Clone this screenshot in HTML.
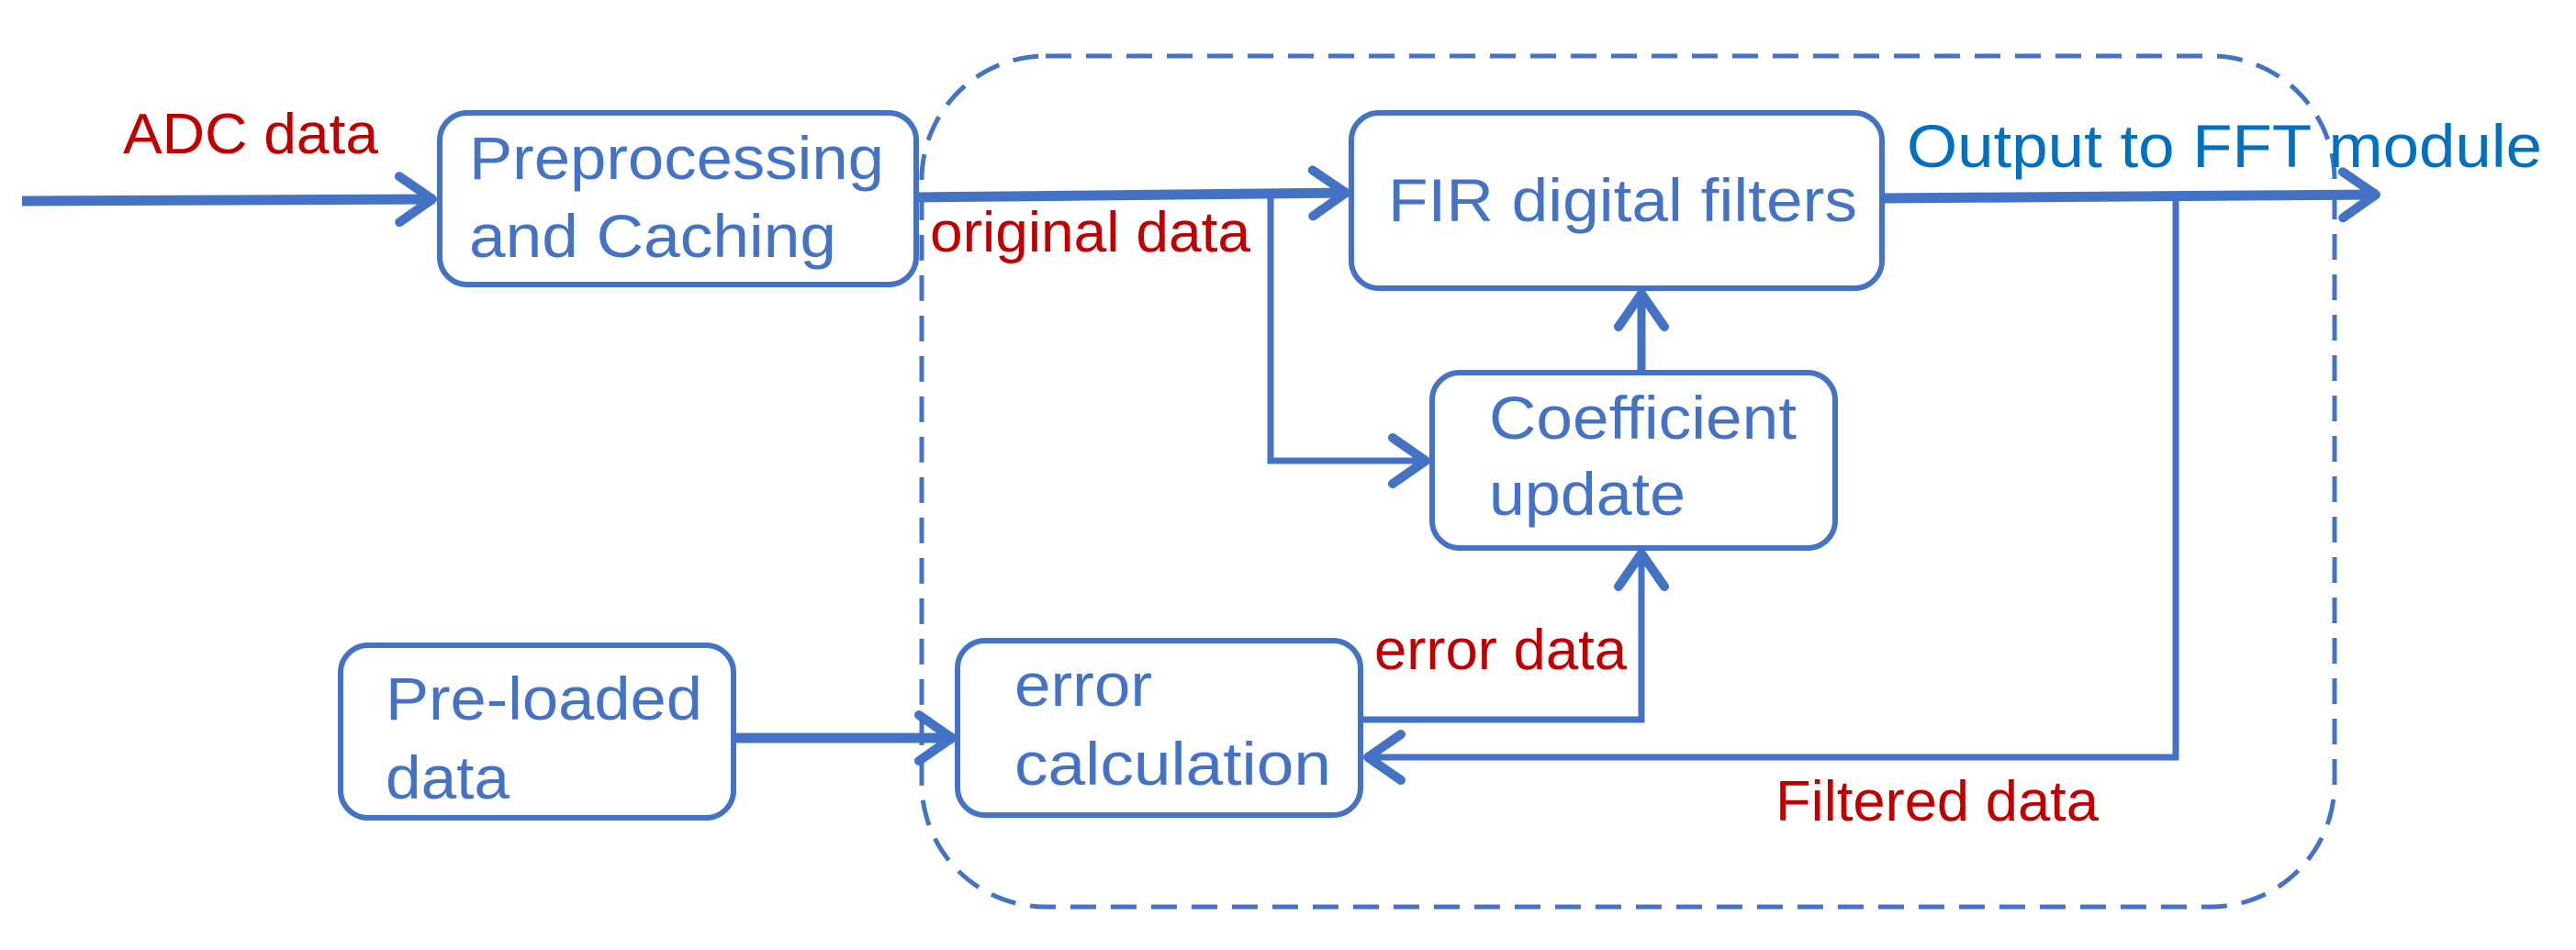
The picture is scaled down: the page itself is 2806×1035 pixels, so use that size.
<!DOCTYPE html>
<html><head><meta charset="utf-8"><style>
html,body{margin:0;padding:0;background:#fff;}
svg{display:block;}
text{font-family:"Liberation Sans",Arial,sans-serif;}
.b{fill:#4472c4;font-size:66px;}
.r{fill:#c00000;font-size:62px;}
</style></head><body>
<svg width="2806" height="1035" viewBox="0 0 2806 1035" xmlns="http://www.w3.org/2000/svg">
<defs>
<marker id="a" markerUnits="userSpaceOnUse" markerWidth="60" markerHeight="70" refX="50" refY="35" orient="auto">
<path d="M12 10 L48 35 L12 60" fill="none" stroke="#4472c4" stroke-width="10" stroke-linecap="round" stroke-linejoin="round"/>
</marker>
</defs>
<!-- dashed container -->
<rect x="1004" y="61" width="1539" height="927" rx="135" ry="135" fill="none" stroke="#4472c4" stroke-width="5" stroke-dasharray="28 16"/>
<!-- boxes -->
<g fill="none" stroke="#4472c4" stroke-width="6">
<rect x="479" y="123" width="519" height="187" rx="30"/>
<rect x="371" y="703" width="428" height="188" rx="30"/>
<rect x="1043" y="698" width="439" height="190" rx="30"/>
<rect x="1472" y="123" width="578" height="191" rx="30"/>
<rect x="1560" y="406" width="439" height="191" rx="30"/>
</g>
<!-- connectors -->
<g fill="none" stroke="#4472c4" stroke-linejoin="miter">
<line x1="24" y1="219" x2="473" y2="217" stroke-width="11" marker-end="url(#a)"/>
<line x1="998" y1="215" x2="1468" y2="210" stroke-width="11" marker-end="url(#a)"/>
<polyline points="1384,213 1384,502 1555,502" stroke-width="7" marker-end="url(#a)"/>
<line x1="1788" y1="406" x2="1788" y2="318" stroke-width="9" marker-end="url(#a)"/>
<polyline points="1482,784 1788,784 1788,601" stroke-width="7" marker-end="url(#a)"/>
<line x1="799" y1="804" x2="1039" y2="804" stroke-width="11" marker-end="url(#a)"/>
<line x1="2050" y1="216" x2="2590" y2="212" stroke-width="11" marker-end="url(#a)"/>
<polyline points="2370,216 2370,825 1488,825" stroke-width="7" marker-end="url(#a)"/>
</g>
<!-- box text -->
<text class="b" x="511" y="195" textLength="452" lengthAdjust="spacingAndGlyphs">Preprocessing</text>
<text class="b" x="511" y="280" textLength="400" lengthAdjust="spacingAndGlyphs">and Caching</text>
<text class="b" x="420" y="784" textLength="345" lengthAdjust="spacingAndGlyphs">Pre-loaded</text>
<text class="b" x="420" y="870" textLength="135" lengthAdjust="spacingAndGlyphs">data</text>
<text class="b" x="1105" y="769" textLength="150" lengthAdjust="spacingAndGlyphs">error</text>
<text class="b" x="1105" y="855" textLength="345" lengthAdjust="spacingAndGlyphs">calculation</text>
<text class="b" x="1512" y="241" textLength="511" lengthAdjust="spacingAndGlyphs">FIR digital filters</text>
<text class="b" x="1622" y="478" textLength="335" lengthAdjust="spacingAndGlyphs">Coefficient</text>
<text class="b" x="1622" y="561" textLength="214" lengthAdjust="spacingAndGlyphs">update</text>
<!-- labels -->
<text class="r" x="134" y="167" textLength="278" lengthAdjust="spacingAndGlyphs">ADC data</text>
<text class="r" x="1013" y="274" textLength="349" lengthAdjust="spacingAndGlyphs">original data</text>
<text class="r" x="1497" y="729" textLength="275" lengthAdjust="spacingAndGlyphs">error data</text>
<text class="r" x="1934" y="894" textLength="352" lengthAdjust="spacingAndGlyphs">Filtered data</text>
<text x="2077" y="182" textLength="692" lengthAdjust="spacingAndGlyphs" style="fill:#0070c0;font-size:66px;">Output to FFT module</text>
</svg>
</body></html>
